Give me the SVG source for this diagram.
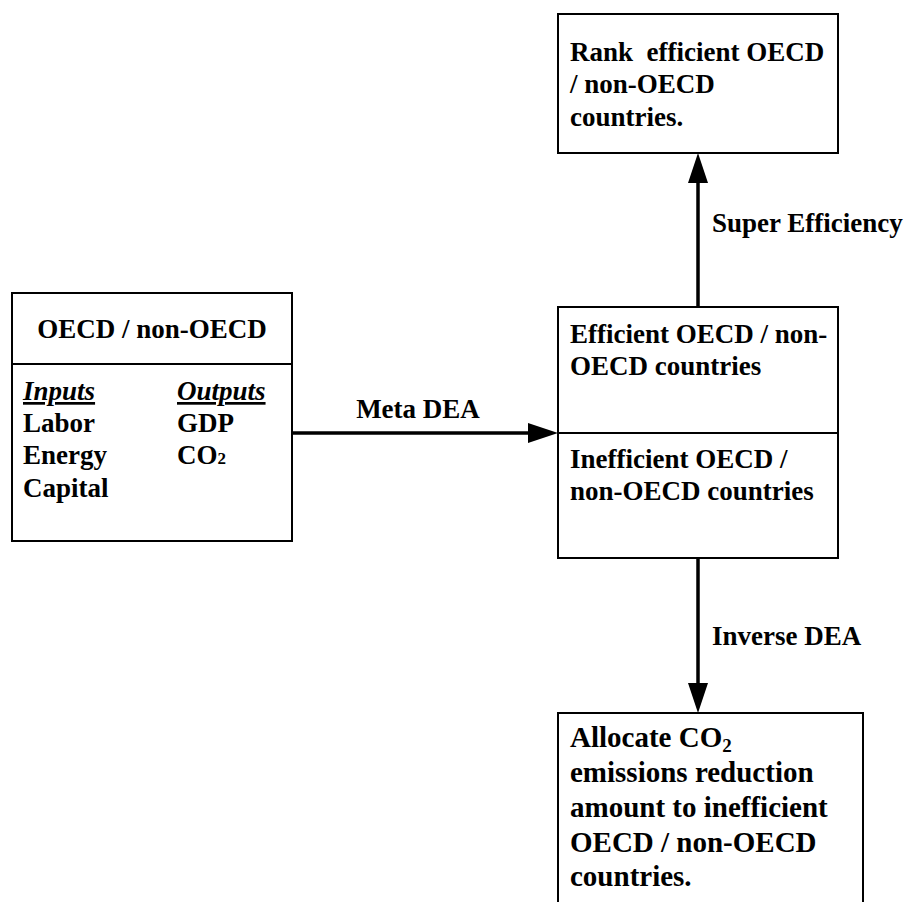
<svg xmlns="http://www.w3.org/2000/svg" width="906" height="902" viewBox="0 0 906 902">
<style>
.box{fill:#fff;stroke:#000;stroke-width:2}
.div{stroke:#000;stroke-width:2}
text{font-family:"Liberation Serif","Times New Roman",serif;font-weight:bold;font-size:27px;fill:#000}
.big{font-size:29px}
.hd{font-style:italic;text-decoration:underline}
.conn{stroke:#000;stroke-width:3.5;fill:none}
.head{fill:#000}
</style>
<rect width="906" height="902" fill="#fff"/>
<g id="connectors">
<line class="conn" x1="292" y1="433" x2="530" y2="433"/>
<polygon class="head" points="558,433 528,423 528,443"/>
<line class="conn" x1="698" y1="307" x2="698" y2="180"/>
<polygon class="head" points="698,153 688,183 708,183"/>
<line class="conn" x1="698" y1="558" x2="698" y2="686"/>
<polygon class="head" points="698,713 688,683 708,683"/>
<text x="418" y="418" text-anchor="middle">Meta DEA</text>
<text x="712" y="232">Super Efficiency</text>
<text x="712" y="645">Inverse DEA</text>
</g>
<g id="oecd-input">
<rect class="box" x="12" y="293" width="280" height="248"/>
<line class="div" x1="12" y1="364" x2="292" y2="364"/>
<text x="152" y="338" text-anchor="middle">OECD / non-OECD</text>
<text x="23" y="400" class="hd">Inputs</text>
<text x="177" y="400" class="hd">Outputs</text>
<text x="23" y="432">Labor</text>
<text x="177" y="432">GDP</text>
<text x="23" y="464">Energy</text>
<text x="177" y="464">CO<tspan font-size="17">2</tspan></text>
<text x="23" y="497">Capital</text>
</g>
<g id="rank">
<rect class="box" x="558" y="14" width="280" height="139"/>
<text x="570" y="61" xml:space="preserve">Rank  efficient OECD</text>
<text x="570" y="93">/ non-OECD</text>
<text x="570" y="126">countries.</text>
</g>
<g id="efficiency">
<rect class="box" x="558" y="307" width="280" height="251"/>
<line class="div" x1="558" y1="433" x2="838" y2="433"/>
<text x="570" y="343">Efficient OECD / non-</text>
<text x="570" y="375">OECD countries</text>
<text x="570" y="468">Inefficient OECD /</text>
<text x="570" y="500">non-OECD countries</text>
</g>
<g id="allocate">
<rect class="box" x="558" y="713" width="305" height="200"/>
<text class="big" x="570" y="747">Allocate CO<tspan font-size="19" dy="5">2</tspan></text>
<text class="big" x="570" y="782">emissions reduction</text>
<text class="big" x="570" y="817">amount to inefficient</text>
<text class="big" x="570" y="852">OECD / non-OECD</text>
<text class="big" x="570" y="886">countries.</text>
</g>
</svg>
